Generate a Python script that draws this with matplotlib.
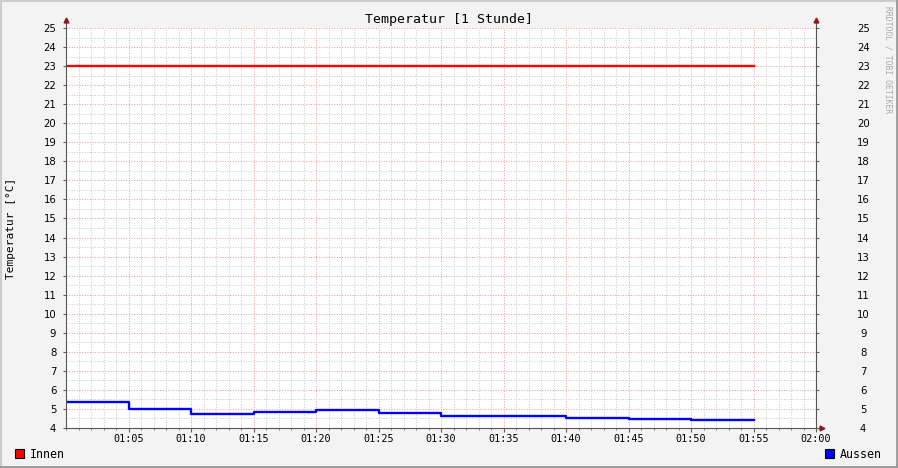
import matplotlib
matplotlib.use("Agg")
import matplotlib.pyplot as plt
from matplotlib.patches import Rectangle
from matplotlib.lines import Line2D
from matplotlib.ticker import MultipleLocator, FixedLocator

# ---- data ----
title = "Temperatur [1 Stunde]"
ylabel = "Temperatur [°C]"
watermark = "RRDTOOL / TOBI OETIKER"
times = ["01:00", "01:05", "01:10", "01:15", "01:20", "01:25",
         "01:30", "01:35", "01:40", "01:45", "01:50", "01:55"]
innen = [23.0, 23.0, 23.0, 23.0, 23.0, 23.0, 23.0, 23.0, 23.0, 23.0, 23.0, 23.0]
aussen = [5.38, 5.01, 4.76, 4.85, 4.96, 4.81, 4.65, 4.65, 4.53, 4.47, 4.42, 4.42]
xtick_labels = ["01:05", "01:10", "01:15", "01:20", "01:25", "01:30",
                "01:35", "01:40", "01:45", "01:50", "01:55", "02:00"]
series_names = ["Innen", "Aussen"]
series_colors = ["#ff0000", "#0000ff"]

def to_min(s):
    h, m = s.split(":")
    return (int(h) - 1) * 60 + int(m)

x = [to_min(t) for t in times]
xt = [to_min(t) for t in xtick_labels]

W, H = 898, 468
fig = plt.figure(figsize=(W / 100, H / 100), dpi=100)
fig.patch.set_facecolor("#f3f3f3")

L, R, T, B = 66, 816, 28, 428
ax = fig.add_axes([L / W, 1 - B / H, (R - L) / W, (B - T) / H])
ax.set_facecolor("white")
ax.set_xlim(0, 60)
ax.set_ylim(4, 25)

mono = "DejaVu Sans Mono"

# grids
ax.xaxis.set_major_locator(FixedLocator(xt))
ax.xaxis.set_minor_locator(MultipleLocator(1))
ax.yaxis.set_major_locator(MultipleLocator(1))
ax.yaxis.set_minor_locator(MultipleLocator(0.5))
ax.grid(which="minor", color="#c8c8c8", linestyle=(0, (1, 1.6)), linewidth=0.72)
ax.grid(which="major", color="#f29c9c", linestyle=(0, (1, 1.6)), linewidth=0.72)
ax.set_axisbelow(True)

ax.set_xticklabels(xtick_labels, fontfamily=mono, fontsize=7.3)
ax.tick_params(axis="x", which="major", length=3, color="#606060", pad=1)
ax.tick_params(axis="x", which="minor", length=1.5, color="#606060")
ax.tick_params(axis="y", which="major", length=2, color="#606060", pad=5, labelsize=7.3)
ax.tick_params(axis="y", which="minor", length=0)
ax.set_yticks(range(4, 26))
ax.set_yticklabels([str(v) for v in range(4, 26)])

for s in ["top", "left", "right", "bottom"]:
    ax.spines[s].set_visible(False)

# right axis labels
ax2 = ax.twinx()
ax2.set_ylim(4, 25)
ax2.set_yticks(range(4, 26))
ax2.set_yticklabels([str(v) for v in range(4, 26)], ha="center")
ax2.tick_params(axis="y", length=2, color="#606060", pad=32, labelsize=7.3)
for s in ["top", "left", "right", "bottom"]:
    ax2.spines[s].set_visible(False)

# data lines
ax.step(x, innen, where="post", color=series_colors[0], linewidth=1.7, zorder=5)
ax.step(x, aussen, where="post", color=series_colors[1], linewidth=1.7, zorder=5)

# axes lines + arrows
ac = "#555555"
arrow_c = "#8b1a1a"
ax.add_line(Line2D([0, 0], [0, 1 + 6 / 400], transform=ax.transAxes, color=ac, lw=0.8, clip_on=False, zorder=6))
ax.add_line(Line2D([1, 1], [0, 1 + 6 / 400], transform=ax.transAxes, color=ac, lw=0.8, clip_on=False, zorder=6))
ax.add_line(Line2D([0, 1 + 4 / 750], [0, 0], transform=ax.transAxes, color=ac, lw=0.8, clip_on=False, zorder=6))
ax.plot([0], [1 + 8 / 400], marker="^", markersize=3.5, color=arrow_c, transform=ax.transAxes, clip_on=False, zorder=7)
ax.plot([1], [1 + 8 / 400], marker="^", markersize=3.5, color=arrow_c, transform=ax.transAxes, clip_on=False, zorder=7)
ax.plot([1 + 6 / 750], [0], marker=">", markersize=3.5, color=arrow_c, transform=ax.transAxes, clip_on=False, zorder=7)

# title, ylabel, watermark
fig.text(0.5, 1 - 19 / H, title, ha="center", va="center", fontfamily=mono, fontsize=9.5)
fig.text(11 / W, 1 - 228 / H, ylabel, ha="center", va="center", rotation=90, fontfamily=mono, fontsize=8)
fig.text(888 / W, 1 - 60 / H, watermark, ha="center", va="center", rotation=270, fontfamily=mono, fontsize=5.8, color="#aaaaaa")

# legend
fig.add_artist(Rectangle((15 / W, 1 - 458 / H), 9 / W, 9 / H, transform=fig.transFigure, facecolor=series_colors[0], edgecolor="black", lw=0.8))
fig.text(30 / W, 1 - 454 / H, series_names[0], ha="left", va="center", fontfamily=mono, fontsize=8.4)
fig.add_artist(Rectangle((825 / W, 1 - 458 / H), 9 / W, 9 / H, transform=fig.transFigure, facecolor=series_colors[1], edgecolor="black", lw=0.8))
fig.text(840 / W, 1 - 454 / H, series_names[1], ha="left", va="center", fontfamily=mono, fontsize=8.4)

# 3d frame
fig.add_artist(Line2D([0, 1], [1 - 1 / H, 1 - 1 / H], transform=fig.transFigure, color="#cccccc", lw=1.5))
fig.add_artist(Line2D([1 / W, 1 / W], [0, 1], transform=fig.transFigure, color="#cccccc", lw=1.5))
fig.add_artist(Line2D([0, 1], [1.5 / H, 1.5 / H], transform=fig.transFigure, color="#999999", lw=2))
fig.add_artist(Line2D([1 - 1.5 / W, 1 - 1.5 / W], [0, 1], transform=fig.transFigure, color="#999999", lw=2))

fig.savefig("out.png", dpi=100, facecolor=fig.get_facecolor())
